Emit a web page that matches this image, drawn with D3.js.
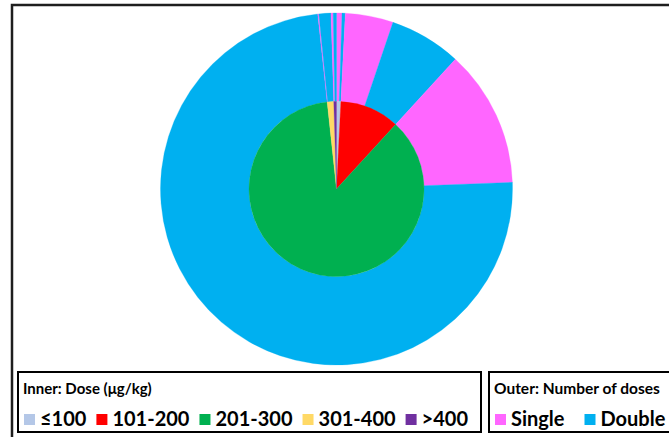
<!DOCTYPE html>
<html>
<head>
<meta charset="utf-8">
<script src="https://cdn.jsdelivr.net/npm/d3@7"></script>
<style>
  html, body { margin: 0; padding: 0; background: #fff; }
  svg text { font-family: Lato, "Open Sans", sans-serif; font-weight: 700; fill: #000; }
</style>
</head>
<body>
<svg id="chart" width="669" height="437"></svg>
<script>
  // inner ring: dose groups (ug/kg)
  var doseLabels = ["\u2264100", "101-200", "201-300", "301-400", ">400"];
  var doseCounts = [8, 110, 865, 12, 5];
  // outer ring: number of doses inside each dose group
  var doseTypes = ["Single", "Double"];
  var singleCounts = [5, 44, 126, 1, 2];
  var doubleCounts = [3, 66, 739, 11, 3];

  var doseColors = ["#B4C7E7", "#FF0000", "#00B050", "#FFD966", "#7030A0"];
  var typeColors = ["#FF66FF", "#00B0F0"];

  var svg = d3.select("#chart");
  var cx = 336.5, cy = 189;
  var rInner = 87.5, rOuter = 176;

  // cadre
  svg.append("rect")
    .attr("x", 12).attr("y", 5)
    .attr("width", 720).attr("height", 480)
    .attr("fill", "none")
    .attr("stroke", "#1e1e1e")
    .attr("stroke-width", 2.5);

  var g = svg.append("g").attr("transform", "translate(" + cx + "," + cy + ")");

  var pie = d3.pie().sort(null).value(function(d) { return d.value; });

  var inner = doseLabels.map(function(l, i) { return {label: l, value: doseCounts[i], color: doseColors[i]}; });
  var outer = [];
  doseLabels.forEach(function(l, i) {
    outer.push({label: l + " single", value: singleCounts[i], color: typeColors[0]});
    outer.push({label: l + " double", value: doubleCounts[i], color: typeColors[1]});
  });

  var arcOuter = d3.arc().innerRadius(rInner).outerRadius(rOuter);
  var arcInner = d3.arc().innerRadius(0).outerRadius(rInner);

  g.selectAll("path.outer")
    .data(pie(outer))
    .enter().append("path")
    .attr("class", "outer")
    .attr("d", arcOuter)
    .attr("fill", function(d) { return d.data.color; })
    .attr("stroke", function(d) { return d.data.color; })
    .attr("stroke-width", 0.3);

  g.selectAll("path.inner")
    .data(pie(inner))
    .enter().append("path")
    .attr("class", "inner")
    .attr("d", arcInner)
    .attr("fill", function(d) { return d.data.color; })
    .attr("stroke", function(d) { return d.data.color; })
    .attr("stroke-width", 0.3);

  // légendes
  function legendBox(x, w, title, titleSize, gap, labels, colors) {
    var box = svg.append("g");
    box.append("rect")
      .attr("x", x).attr("y", 372)
      .attr("width", w).attr("height", 60)
      .attr("fill", "#fff")
      .attr("stroke", "#000")
      .attr("stroke-width", 2);
    box.append("text")
      .attr("x", x + 5).attr("y", 394)
      .style("font-size", titleSize + "px")
      .text(title);
    var xpos = x + 6;
    labels.forEach(function(l, i) {
      box.append("rect")
        .attr("x", xpos).attr("y", 414)
        .attr("width", 11).attr("height", 11)
        .attr("fill", colors[i]);
      var t = box.append("text")
        .attr("x", xpos + 16).attr("y", 426)
        .style("font-size", "20px")
        .text(l);
      xpos += 16 + t.node().getComputedTextLength() + gap;
    });
  }

  legendBox(18, 463, "Inner: Dose (\u03bcg/kg)", 15, 10, doseLabels, doseColors);
  legendBox(489, 300, "Outer: Number of doses", 15.5, 20, doseTypes, typeColors);
</script>
</body>
</html>
